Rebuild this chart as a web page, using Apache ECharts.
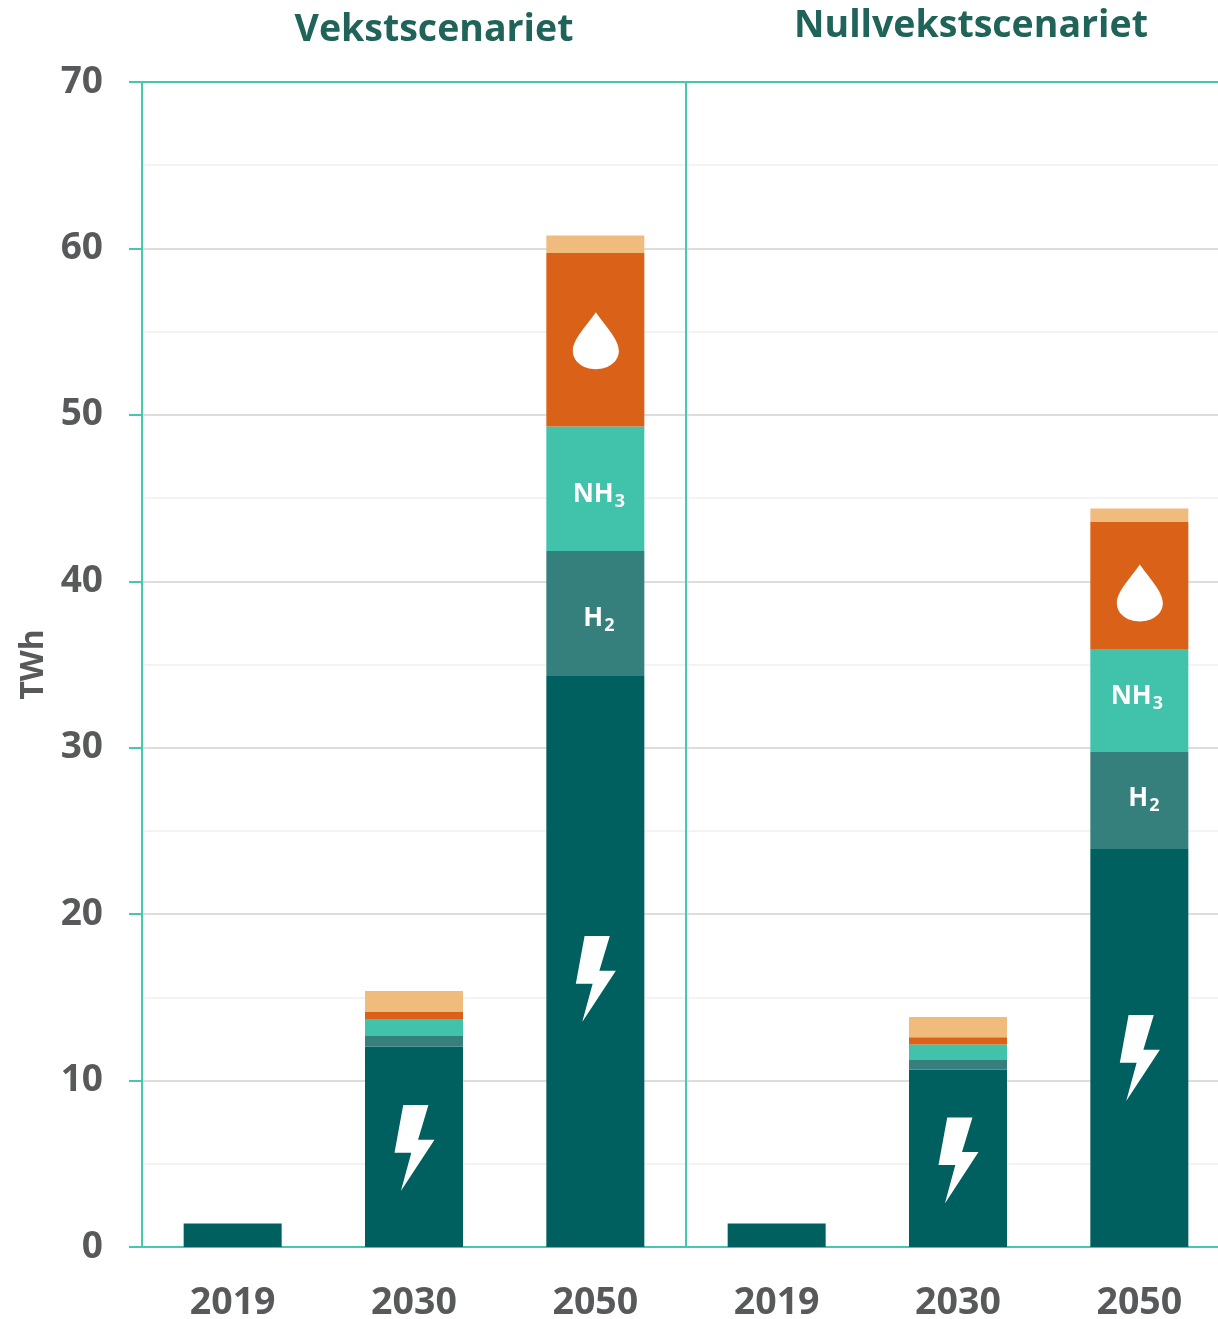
<!DOCTYPE html>
<html lang="no">
<head>
<meta charset="utf-8">
<title>Vekstscenariet og Nullvekstscenariet</title>
<style>
  html, body { margin: 0; padding: 0; background: #fff; overflow: hidden; }
  #chart { width: 1218px; height: 1319px; }
</style>
<script src="https://cdn.jsdelivr.net/npm/echarts@6/dist/echarts.min.js"></script>
</head>
<body>
<div id="chart"></div>
<script>
// Energy demand in TWh, two scenarios side by side on one shared axis
const years = ['2019', '2030', '2050', '2019', '2030', '2050'];
const scenarios = ['Vekstscenariet', 'Nullvekstscenariet'];
const yTicksMax = 70;

const electricity = [1.41, 12.05, 34.31, 1.41, 10.67, 23.91];
const hydrogen    = [null, 0.63, 7.51, null, 0.57, 5.83];
const ammonia     = [null, 1.02, 7.48, null, 0.93, 6.19];
const fuel        = [null, 0.45, 10.43, null, 0.43, 7.63];
const other       = [null, 1.23, 1.05, null, 1.22, 0.81];

// Where the pictograms sit, as [category index, TWh]
const boltSpots = [[1, 5.95], [2, 16.1], [4, 5.2], [5, 11.35]];
const dropSpots = [[2, 54.45], [5, 39.3]];

const BOLT = 'path://M26,0 L101,0 L70,104 L119,104 L19,258 L50,143 L0,143 Z';
const DROP = 'path://M68,0 C95,40 136,80 136,115 C136,148 105,170 68,170 C31,170 0,148 0,115 C0,80 41,40 68,0 Z';

const TEAL_LINE = '#46c8af';
const TEXT_GREY = '#58595b';
const TITLE_GREEN = '#1f6359';

// White chemical-formula label with a subscript, shown inside a bar segment
function formula(text, offset) {
  return {
    show: true,
    position: 'inside',
    offset: offset,
    formatter: text,
    rich: {
      f: { color: '#fff', fontFamily: 'Open Sans', fontWeight: 700, fontSize: 26 },
      s: { color: '#fff', fontFamily: 'Open Sans', fontWeight: 700, fontSize: 18, padding: [15, 0, 0, 1] }
    }
  };
}

function withLabels(values, labels) {
  return values.map((v, i) => labels[i] ? { value: v, label: labels[i] } : v);
}

function stackedBar(name, values, color) {
  return {
    name: name,
    type: 'bar',
    stack: 'total',
    barWidth: 98,
    data: values,
    itemStyle: { color: color },
    silent: true
  };
}

function pictograms(name, symbol, size, spots) {
  return {
    name: name,
    type: 'scatter',
    symbol: symbol,
    symbolSize: size,
    symbolOffset: [0.5, 0],
    data: spots,
    itemStyle: { color: '#fff', opacity: 1 },
    z: 5,
    silent: true
  };
}

const h2Labels = { 2: formula('{f|H}{s|2}', [3.5, 5]), 5: formula('{f|H}{s|2}', [4.5, -2]) };
const nh3Labels = { 2: formula('{f|NH}{s|3}', [3.5, 6]), 5: formula('{f|NH}{s|3}', [-2.5, -4]) };

const chart = echarts.init(document.getElementById('chart'), null, { renderer: 'canvas' });

const electricitySeries = stackedBar('Elektrisitet', electricity, '#00605f');
// Teal frame along the top of the plot
electricitySeries.markLine = {
  silent: true,
  symbol: 'none',
  label: { show: false },
  lineStyle: { color: TEAL_LINE, width: 2, type: 'solid' },
  data: [{ yAxis: yTicksMax }]
};

chart.setOption({
  animation: false,
  backgroundColor: '#fff',
  title: [
    {
      text: scenarios[0], left: 429, top: 6, textAlign: 'center',
      textStyle: { color: TITLE_GREEN, fontFamily: 'Open Sans', fontWeight: 700, fontSize: 37.5 }
    },
    {
      text: scenarios[1], left: 966, top: 2, textAlign: 'center',
      textStyle: { color: TITLE_GREEN, fontFamily: 'Open Sans', fontWeight: 700, fontSize: 37.5 }
    }
  ],
  // The plot runs past the right edge of the page, so the last band is cut off
  grid: { left: 142, top: 82, width: 1088, height: 1165, outerBoundsMode: 'none' },
  xAxis: {
    type: 'category',
    data: years,
    axisLine: { lineStyle: { color: TEAL_LINE, width: 2 } },
    axisTick: { show: false },
    axisLabel: {
      color: TEXT_GREY, fontFamily: 'Open Sans', fontWeight: 700, fontSize: 37.5,
      margin: 37, interval: 0
    },
    // Vertical rules at the left edge and between the two scenarios
    splitLine: {
      show: true,
      interval: (i) => i === 0 || i === 3,
      lineStyle: { color: TEAL_LINE, width: 2 }
    }
  },
  yAxis: {
    type: 'value',
    min: 0,
    max: yTicksMax,
    interval: 10,
    name: 'TWh',
    nameLocation: 'middle',
    nameRotate: 90,
    nameGap: 92,
    nameTextStyle: { color: TEXT_GREY, fontFamily: 'Open Sans', fontWeight: 700, fontSize: 32 },
    axisLine: { show: true, lineStyle: { color: TEAL_LINE, width: 2 } },
    axisTick: { show: true, length: 13, lineStyle: { color: TEAL_LINE, width: 2 } },
    axisLabel: {
      color: TEXT_GREY, fontFamily: 'Open Sans', fontWeight: 700, fontSize: 37, margin: 39,
      padding: [2, 0, 0, 0]
    },
    splitLine: { show: true, lineStyle: { color: '#dddddd', width: 2 } },
    minorTick: { show: false, splitNumber: 2 },
    minorSplitLine: { show: true, lineStyle: { color: '#f3f3f3', width: 2 } }
  },
  series: [
    electricitySeries,
    stackedBar('Hydrogen', withLabels(hydrogen, h2Labels), '#357f7c'),
    stackedBar('Ammoniakk', withLabels(ammonia, nh3Labels), '#41c2aa'),
    stackedBar('Drivstoff', fuel, '#d96218'),
    stackedBar('Annet', other, '#efbc7e'),
    pictograms('Lyn', BOLT, [40, 86], boltSpots),
    pictograms('Dråpe', DROP, [46, 57], dropSpots)
  ]
});
</script>
</body>
</html>
